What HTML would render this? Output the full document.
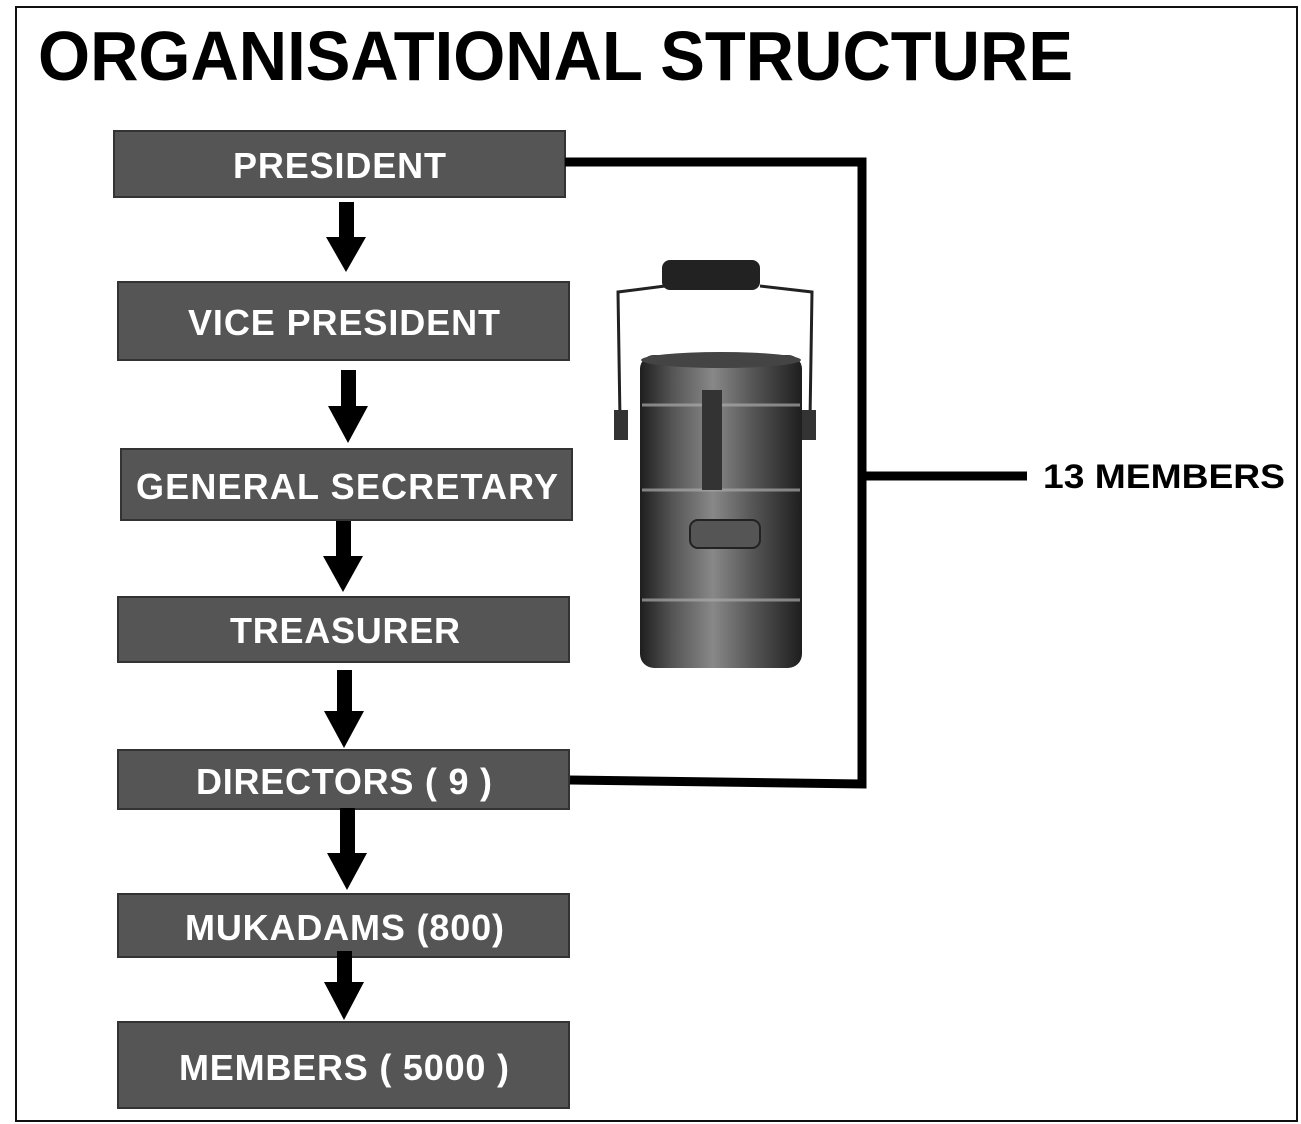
<!DOCTYPE html>
<html><head><style>
html,body{margin:0;padding:0;background:#fff;}
svg{display:block;}
text{font-family:"Liberation Sans",Arial,sans-serif;font-weight:bold;}
</style></head><body>
<svg width="1301" height="1124" viewBox="0 0 1301 1124" xmlns="http://www.w3.org/2000/svg">
<rect x="0" y="0" width="1301" height="1124" fill="#fff"/>
<rect x="16" y="7" width="1281" height="1114" fill="none" stroke="#111" stroke-width="2"/>
<text x="38" y="80" font-size="70" fill="#000" textLength="1035" lengthAdjust="spacingAndGlyphs">ORGANISATIONAL STRUCTURE</text>

<g fill="#555" stroke="#333" stroke-width="2">
<rect x="114" y="131" width="451" height="66"/>
<rect x="118" y="282" width="451" height="78"/>
<rect x="121" y="449" width="451" height="71"/>
<rect x="118" y="597" width="451" height="65"/>
<rect x="118" y="750" width="451" height="59"/>
<rect x="118" y="894" width="451" height="63"/>
<rect x="118" y="1022" width="451" height="86"/>
</g>
<g fill="#fff" font-size="36" lengthAdjust="spacingAndGlyphs">
<text x="233" y="178" textLength="213">PRESIDENT</text>
<text x="188" y="335" textLength="312">VICE PRESIDENT</text>
<text x="136" y="499" textLength="422">GENERAL SECRETARY</text>
<text x="230" y="643" textLength="230">TREASURER</text>
<text x="196" y="794" textLength="296">DIRECTORS ( 9 )</text>
<text x="185" y="940" textLength="319">MUKADAMS (800)</text>
<text x="179" y="1080" textLength="330">MEMBERS ( 5000 )</text>
</g>

<g fill="#000">
<rect x="339" y="202" width="15" height="36"/><polygon points="326,237 366,237 346,272"/>
<rect x="341" y="370" width="15" height="37"/><polygon points="328,406 368,406 348,443"/>
<rect x="336" y="521" width="15" height="36"/><polygon points="323,556 363,556 343,592"/>
<rect x="337" y="670" width="15" height="42"/><polygon points="324,711 364,711 344,748"/>
<rect x="340" y="808" width="15" height="46"/><polygon points="327,853 367,853 347,890"/>
<rect x="337" y="951" width="15" height="32"/><polygon points="324,982 364,982 344,1020"/>
</g>

<g fill="none" stroke="#000" stroke-width="9">
<polyline points="565,162 862,162 862,784 570,780"/>
<line x1="862" y1="476" x2="1027" y2="476"/>
</g>
<text x="1043" y="488" font-size="34" fill="#000" textLength="242" lengthAdjust="spacingAndGlyphs">13 MEMBERS</text>

<defs>
<linearGradient id="met" x1="0" x2="1" y1="0" y2="0">
<stop offset="0" stop-color="#1e1e1e"/>
<stop offset="0.2" stop-color="#555"/>
<stop offset="0.45" stop-color="#888"/>
<stop offset="0.7" stop-color="#555"/>
<stop offset="1" stop-color="#1e1e1e"/>
</linearGradient>
</defs>
<path d="M620,420 L618,292 L665,286 M760,286 L812,292 L810,420" fill="none" stroke="#222" stroke-width="3"/>
<rect x="662" y="260" width="98" height="30" rx="8" fill="#222"/>
<rect x="640" y="355" width="162" height="313" rx="14" fill="url(#met)"/>
<ellipse cx="721" cy="360" rx="80" ry="8" fill="#444"/>
<g stroke="#aaa" stroke-width="3" fill="none" opacity="0.7">
<line x1="642" y1="405" x2="800" y2="405"/>
<line x1="642" y1="490" x2="800" y2="490"/>
<line x1="642" y1="600" x2="800" y2="600"/>
</g>
<rect x="702" y="390" width="20" height="100" fill="#333"/>
<rect x="690" y="520" width="70" height="28" rx="8" fill="#555" stroke="#222" stroke-width="2"/>
<rect x="614" y="410" width="14" height="30" fill="#333"/>
<rect x="802" y="410" width="14" height="30" fill="#333"/>
</svg>
</body></html>
